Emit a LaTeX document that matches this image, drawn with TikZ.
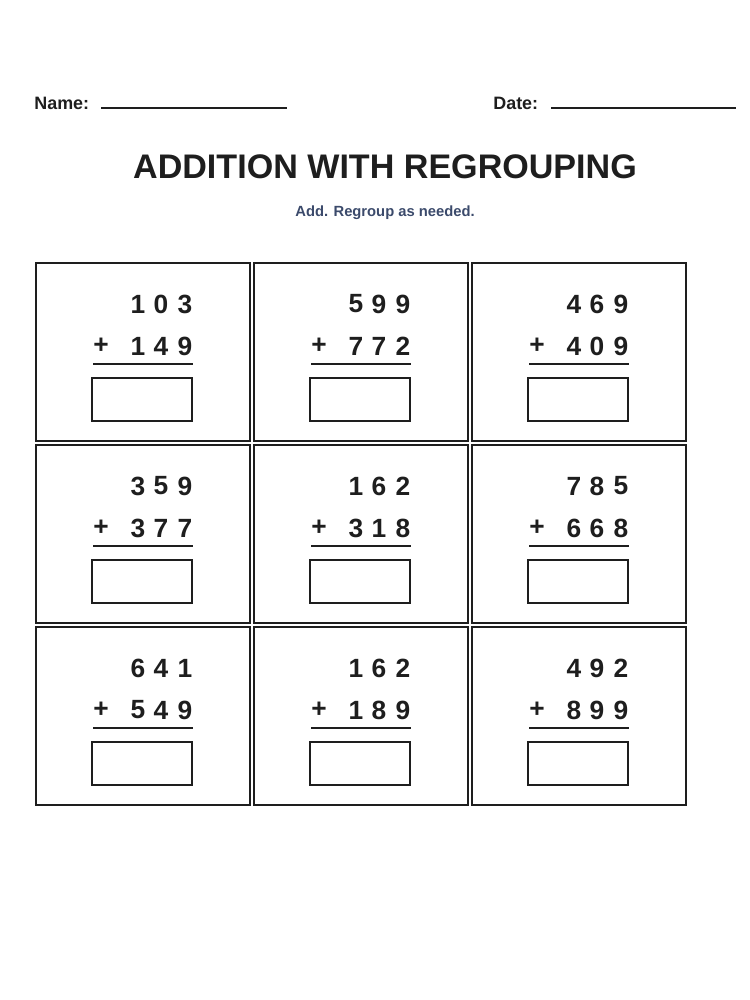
\documentclass[tikz,border=0pt]{standalone}
\usepackage{fontspec}
\setmainfont{Liberation Sans}
\definecolor{slate}{HTML}{3B4A6B}
\definecolor{ink}{HTML}{1E1E1E}
\tikzset{
  cell/.style={draw=ink, line width=1.2pt},
  digit/.style={font=\bfseries\fontsize{15}{17}\selectfont, text=ink, inner sep=0pt},
  rule/.style={draw=ink, line width=1.4pt},
  head/.style={anchor=west, inner sep=0pt, font=\bfseries\fontsize{10.2}{12}\selectfont, text=ink}
}
\begin{document}
\begin{tikzpicture}[x=0.02cm, y=-0.02cm]
	\useasboundingbox (0,0) rectangle (750,1000);
	% Kopf
		\node[head] (name) at (34,103) {Name:};
		\coordinate (nameA) at (101,108); \coordinate (nameB) at (287,108);
		\draw[ink, line width=0.9pt] (nameA) -- (nameB);
		\node[head] (date) at (493,103) {Date:};
		\coordinate (dateA) at (551,108); \coordinate (dateB) at (736,108);
		\draw[ink, line width=0.9pt] (dateA) -- (dateB);
		\node[font=\bfseries\fontsize{19.4}{23}\selectfont, text=ink] (title) at (385,167) {ADDITION WITH REGROUPING};
		\node[font=\bfseries\fontsize{8.4}{10}\selectfont, text=slate] (sub) at (385,213) {Add. Regroup as needed.};
	% Aufgaben
	\foreach \a/\b/\c/\d/\e/\f [count=\i from 0] in {1/0/3/1/4/9, 5/9/9/7/7/2, 4/6/9/4/0/9,
			3/5/9/3/7/7, 1/6/2/3/1/8, 7/8/5/6/6/8, 6/4/1/5/4/9, 1/6/2/1/8/9, 4/9/2/8/9/9} {
		\pgfmathsetmacro{\cx}{36+218*mod(\i,3)}
		\pgfmathsetmacro{\cy}{263+182*int(\i/3)}
		\begin{scope}[shift={(\cx,\cy)}]
			\draw[cell] (0,0) rectangle (214,178);
			\node[digit] (t\i a) at (102,41) {\a};
			\node[digit] (t\i b) at (125,41) {\b};
			\node[digit] (t\i c) at (149,41) {\c};
			\node[digit] (p\i) at (65,83) {+};
			\node[digit] (u\i a) at (102,83) {\d};
			\node[digit] (u\i b) at (125,83) {\e};
			\node[digit] (u\i c) at (149,83) {\f};
			\draw[rule] (57,101) -- (157,101);
			\draw[rule] (56,115) rectangle (156,158);
		\end{scope}
	}
\end{tikzpicture}
\end{document}
